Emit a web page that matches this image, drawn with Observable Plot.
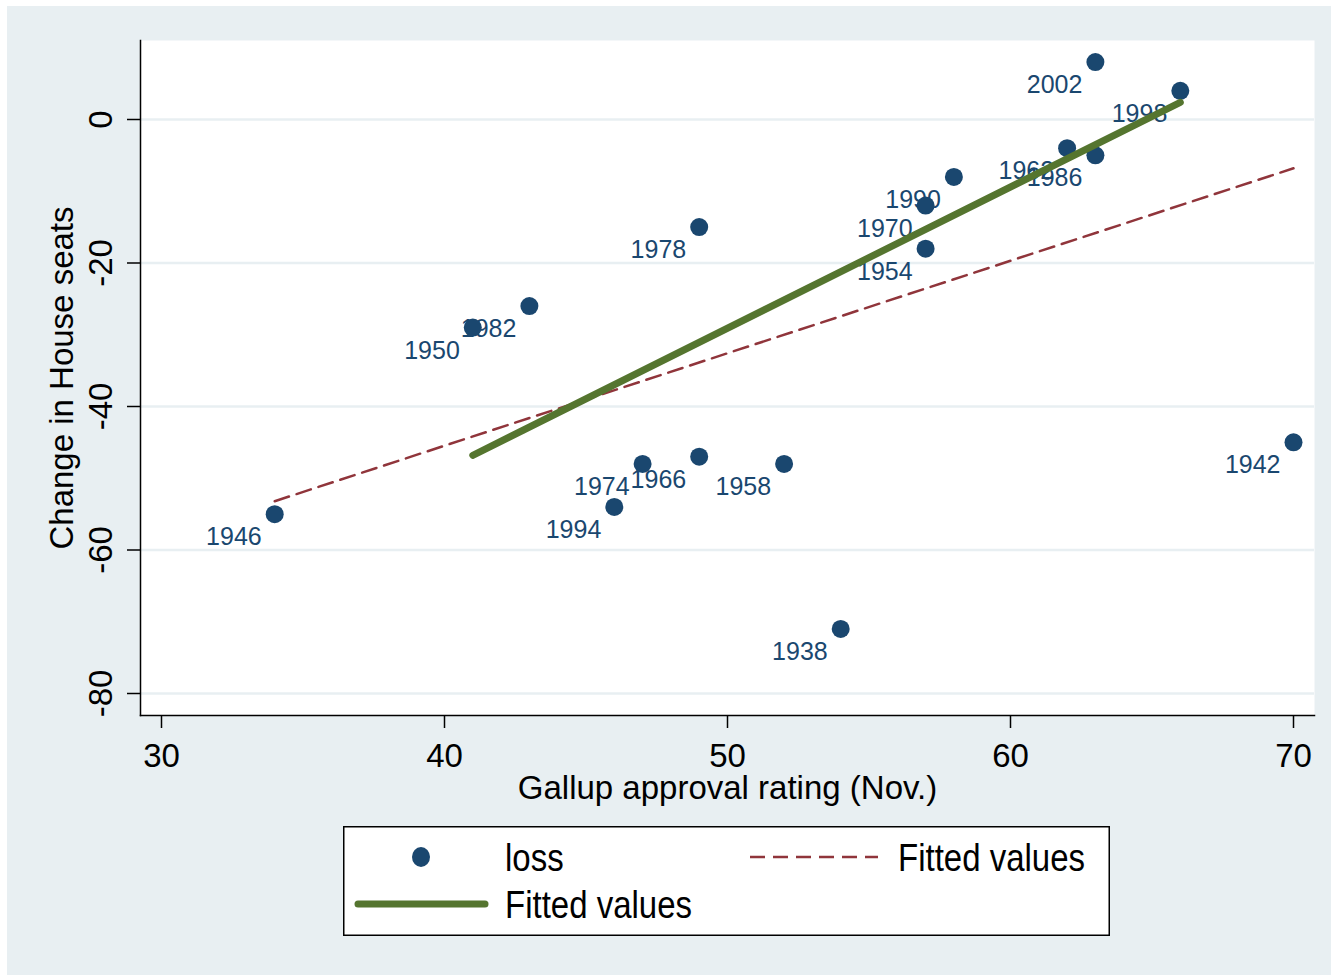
<!DOCTYPE html>
<html>
<head>
<meta charset="utf-8">
<script src="https://cdn.jsdelivr.net/npm/d3@7"></script>
<script src="https://cdn.jsdelivr.net/npm/@observablehq/plot@0.6"></script>
<style>
  body { margin: 0; background: #ffffff; }
  #wrap { position: relative; width: 1331px; height: 975px; background: #ffffff; overflow: hidden; font-family: "Liberation Sans", Arial, sans-serif; }
  #bg { position: absolute; left: 7px; top: 6px; right: 0; bottom: 0; background: #e8eff2; }
  #chart { position: absolute; left: 0; top: 0; }
  #legend { position: absolute; left: 343px; top: 826px; }
</style>
</head>
<body>
<div id="wrap">
  <div id="bg"></div>
  <div id="chart"></div>
  <div id="legend"></div>
</div>
<script>
// ---- data ----
const years    = [1938, 1942, 1946, 1950, 1954, 1958, 1962, 1966, 1970, 1974, 1978, 1982, 1986, 1990, 1994, 1998, 2002];
const approval = [54,   70,   34,   41,   57,   52,   62,   49,   57,   47,   49,   43,   63,   58,   46,   66,   63];
const seats    = [-71,  -45,  -55,  -29,  -18,  -48,  -4,   -47,  -12,  -48,  -15,  -26,  -5,   -8,   -54,  4,    8];

// fitted line: dashed (all points)
const fitAllX = [34, 70];
const fitAllY = [-53.2, -6.8];
// fitted line: solid (subset)
const fitSubX = [41, 66];
const fitSubY = [-46.8, 2.4];

const xTicks = [30, 40, 50, 60, 70];
const yTicks = [-80, -60, -40, -20, 0];

const xTitle = "Gallup approval rating (Nov.)";
const yTitle = "Change in House seats";
const legendLabels = ["loss", "Fitted values", "Fitted values"];

// ---- build tables ----
const pts = years.map((yr, i) => ({year: String(yr), x: approval[i], y: seats[i]}));
const fitAll = fitAllX.map((x, i) => ({x, y: fitAllY[i]}));
const fitSub = fitSubX.map((x, i) => ({x, y: fitSubY[i]}));

const navy = "#1a476f";
const maroon = "#90353b";
const green = "#55752f";
const bgc = "#e8eff2";

const chart = Plot.plot({
  width: 1331,
  height: 800,
  marginLeft: 140,
  marginRight: 17,
  marginTop: 40,
  marginBottom: 85,
  style: { background: "transparent", fontFamily: "'Liberation Sans', Arial, sans-serif", overflow: "visible" },
  x: { domain: [29.258, 70.742] },
  y: { domain: [-83.066, 11.01] },
  marks: [
    Plot.frame({ fill: "white", stroke: null }),
    Plot.gridY(yTicks, { stroke: bgc, strokeOpacity: 1, strokeWidth: 2.5 }),
    Plot.frame({ anchor: "left", stroke: "black", strokeWidth: 1.5 }),
    Plot.frame({ anchor: "bottom", stroke: "black", strokeWidth: 1.5 }),
    Plot.axisX({ ticks: xTicks, tickSize: 13, tickPadding: 15, fontSize: 33, label: null, tickFormat: d => String(d), stroke: "black", strokeWidth: 1.5, fill: "black" }),
    Plot.axisY({ ticks: yTicks, tickSize: 13, tickPadding: 16, tickRotate: -90, fontSize: 33, label: null, tickFormat: d => String(d), stroke: "black", strokeWidth: 1.5, fill: "black" }),
    Plot.text([xTitle], { frameAnchor: "bottom", text: d => d, textAnchor: "middle", lineAnchor: "middle", dy: 73, fontSize: 33, fill: "black" }),
    Plot.text([yTitle], { frameAnchor: "left", text: d => d, rotate: -90, textAnchor: "middle", lineAnchor: "middle", dx: -78, fontSize: 33, fill: "black" }),
    Plot.dot(pts, { x: "x", y: "y", r: 9, fill: navy, stroke: null }),
    Plot.text(pts, { x: "x", y: "y", text: "year", textAnchor: "end", dx: -13, dy: 23, fontSize: 25, fill: navy }),
    Plot.line(fitAll, { x: "x", y: "y", stroke: maroon, strokeWidth: 2.5, strokeDasharray: "15,8" }),
    Plot.line(fitSub, { x: "x", y: "y", stroke: green, strokeWidth: 7 })
  ]
});
document.getElementById("chart").appendChild(chart);

// ---- legend (box below the plot) ----
const lw = 767, lh = 110;
const svg = d3.select("#legend").append("svg")
  .attr("width", lw).attr("height", lh)
  .style("font-family", "'Liberation Sans', Arial, sans-serif");
svg.append("rect").attr("x", 0.75).attr("y", 0.75).attr("width", lw - 1.5).attr("height", lh - 1.5)
  .attr("fill", "white").attr("stroke", "black").attr("stroke-width", 1.5);
svg.append("ellipse").attr("cx", 78).attr("cy", 31).attr("rx", 9).attr("ry", 10).attr("fill", navy);
svg.append("line").attr("x1", 407).attr("x2", 535).attr("y1", 31).attr("y2", 31)
  .attr("stroke", maroon).attr("stroke-width", 2.5).attr("stroke-dasharray", "15,8");
svg.append("line").attr("x1", 15).attr("x2", 142).attr("y1", 78).attr("y2", 78)
  .attr("stroke", green).attr("stroke-width", 7).attr("stroke-linecap", "round");
const lt = [[162, 31, legendLabels[0]], [555, 31, legendLabels[1]], [162, 78, legendLabels[2]]];
lt.forEach(([x, y, t]) => {
  svg.append("text").attr("x", x).attr("y", y).attr("dy", "0.35em")
    .attr("font-size", 33).attr("fill", "black")
    .attr("transform", `translate(${x},${y}) scale(1,1.18) translate(${-x},${-y})`)
    .text(t);
});
</script>
</body>
</html>
